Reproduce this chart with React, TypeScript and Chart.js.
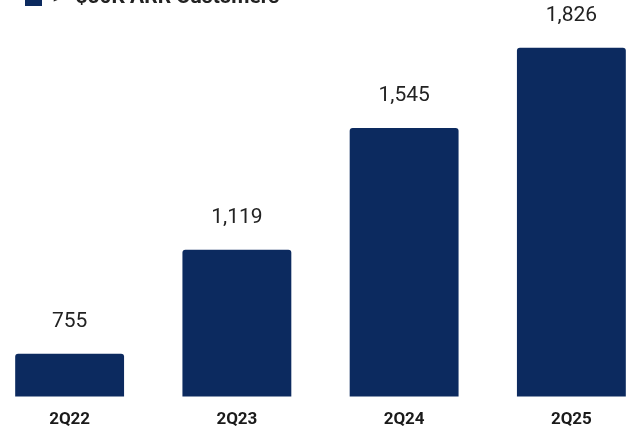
import React, { useEffect, useRef } from "react";
import { Chart, registerables } from "chart.js";

Chart.register(...registerables);

const categories: string[] = ["2Q22", "2Q23", "2Q24", "2Q25"];
const customers: number[] = [755, 1119, 1545, 1826];
const seriesLabel = ">=$50K ARR Customers";
const yMin = 605;
const yMax = 1930;

const BAR_COLOR = "#0c2a5f";
const FONT = "Roboto, 'Noto Sans', sans-serif";

const valueLabels = {
  id: "valueLabels",
  afterDatasetsDraw(chart: any) {
    const ctx = chart.ctx;
    const meta = chart.getDatasetMeta(0);
    ctx.save();
    ctx.font = `400 21px ${FONT}`;
    ctx.textAlign = "center";
    ctx.textBaseline = "middle";
    ctx.lineJoin = "round";
    meta.data.forEach((bar: any, i: number) => {
      const v = chart.data.datasets[0].data[i] as number;
      const txt = v.toLocaleString("en-US");
      const y = bar.y - 32;
      ctx.strokeStyle = "#ffffff";
      ctx.lineWidth = 4;
      ctx.strokeText(txt, bar.x, y);
      ctx.fillStyle = "#222222";
      ctx.fillText(txt, bar.x, y);
    });
    ctx.restore();
  },
};

export default function App() {
  const ref = useRef<HTMLCanvasElement | null>(null);

  useEffect(() => {
    if (!ref.current) return;
    const chart = new Chart(ref.current, {
      type: "bar",
      data: {
        labels: categories,
        datasets: [
          {
            label: seriesLabel,
            data: customers,
            backgroundColor: BAR_COLOR,
            borderRadius: 3,
            borderSkipped: "start",
            barPercentage: 0.651,
            categoryPercentage: 1,
          },
        ],
      },
      options: {
        animation: false,
        responsive: false,
        maintainAspectRatio: false,
        devicePixelRatio: 1,
        layout: { padding: 0 },
        plugins: {
          legend: {
            display: true,
            position: "top",
            align: "start",
            labels: {
              boxWidth: 17,
              boxHeight: 17,
              padding: 39,
              color: "#222222",
              font: { family: FONT, size: 21, weight: "bold" },
            },
          },
          tooltip: { enabled: false },
        },
        scales: {
          x: {
            grid: { display: false, drawTicks: false },
            border: { display: false },
            ticks: {
              padding: 13,
              color: "#1a1a1a",
              font: { family: FONT, size: 17, weight: "bold" },
            },
          },
          y: {
            display: false,
            min: yMin,
            max: yMax,
          },
        },
      },
      plugins: [valueLabels],
    });
    return () => chart.destroy();
  }, []);

  return (
    <div
      style={{
        position: "fixed",
        left: 0,
        top: 0,
        width: 627,
        height: 428,
        overflow: "hidden",
        background: "#ffffff",
      }}
    >
      <canvas
        ref={ref}
        width={669}
        height={495}
        style={{ position: "absolute", left: -14, top: -52, width: 669, height: 495 }}
      />
    </div>
  );
}
